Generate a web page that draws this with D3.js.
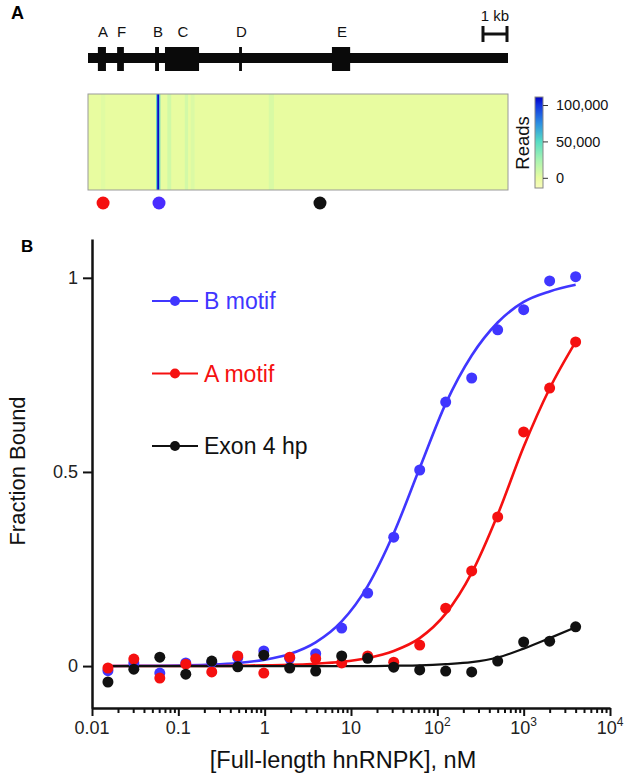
<!DOCTYPE html>
<html>
<head>
<meta charset="utf-8">
<script src="https://cdn.jsdelivr.net/npm/d3@7"></script>
<style>
body { margin: 0; background: #fff; }
svg { display: block; font-family: "Liberation Sans", Arial, sans-serif; }
</style>
</head>
<body>
<div id="chart"></div>
<script>
// ---- panel A: gene model, positions in kb ----
var exonNames = ['A', 'F', 'B', 'C', 'D', 'E'];
var exonStart = [0.38, 1.12, 2.58, 2.96, 5.81, 9.38];
var exonEnd   = [0.69, 1.38, 2.73, 4.27, 5.92, 10.08];
var geneLength = 16.15;

// read windows along the gene (kb) and their read counts
var readStart = [0.50, 2.62, 2.66, 2.74, 3.05, 3.72, 3.95, 6.95];
var readEnd   = [0.66, 2.66, 2.74, 2.78, 3.20, 3.85, 4.10, 7.15];
var readCount = [3000, 55000, 108000, 55000, 9000, 8000, 5000, 6000];

var motifNames = ['A motif', 'B motif', 'Exon 4 hp'];
var motifPos   = [0.58, 2.73, 8.92];

var colorTicks = [0, 50000, 100000];
var colorStopValues = [-14000, 0, 25000, 50000, 75000, 100000, 111000];
var colorStops = ['#f8fbbd', '#e8fca0', '#a6f3b2', '#56dcc4', '#2c8ee2', '#1232e0', '#0000c4'];

// ---- panel B: binding curves ----
var concentration = [0.0153, 0.0305, 0.061, 0.122, 0.244, 0.488, 0.977, 1.95, 3.9, 7.8,
                     15.6, 31.25, 62.5, 125, 250, 500, 1000, 2000, 4000];
var bMotif  = [-0.012, 0.008, -0.018, 0.008, 0.010, 0.022, 0.039, 0.020, 0.032, 0.098,
               0.188, 0.332, 0.505, 0.680, 0.742, 0.866, 0.918, 0.992, 1.003];
var aMotif  = [-0.005, 0.018, -0.031, 0.005, -0.015, 0.026, -0.018, 0.023, 0.019, 0.008,
               0.026, 0.010, 0.054, 0.149, 0.245, 0.384, 0.603, 0.716, 0.835];
var exon4hp = [-0.041, -0.008, 0.023, -0.021, 0.013, -0.002, 0.028, -0.005, -0.013, 0.026,
               0.020, -0.003, -0.010, -0.013, -0.015, 0.013, 0.062, 0.064, 0.101];
// fitted curves at the same concentrations
var bMotifFit  = [0.000, 0.001, 0.001, 0.002, 0.004, 0.008, 0.016, 0.031, 0.061, 0.115,
                  0.206, 0.342, 0.510, 0.676, 0.800, 0.885, 0.938, 0.965, 0.982];
var aMotifFit  = [0.000, 0.000, 0.000, 0.000, 0.000, 0.001, 0.002, 0.003, 0.006, 0.011,
                  0.021, 0.039, 0.072, 0.135, 0.240, 0.390, 0.565, 0.715, 0.835];
var exon4hpFit = [0.000, 0.000, 0.000, 0.000, 0.000, 0.000, 0.000, 0.000, 0.000, 0.000,
                  0.000, 0.001, 0.002, 0.005, 0.010, 0.022, 0.045, 0.072, 0.100];

var seriesNames  = ['B motif', 'A motif', 'Exon 4 hp'];
var seriesColors = ['#4036ff', '#f51010', '#111111'];

var yTicks = [0, 0.5, 1];
var xTicks = [0.01, 0.1, 1, 10, 100, 1000, 10000];
var xTickBase = ['0.01', '0.1', '1', '10', '10', '10', '10'];
var xTickExp  = ['', '', '', '', '2', '3', '4'];

var width = 626, height = 775;

var svg = d3.select('#chart').append('svg')
	.attr('width', width)
	.attr('height', height);

// ================= panel A =================
svg.append('text').attr('x', 11).attr('y', 19)
	.attr('font-size', 18).attr('font-weight', 'bold').text('A');

var gx = d3.scaleLinear().domain([0, geneLength]).range([88, 508]);

var gene = svg.append('g');
gene.append('rect')
	.attr('x', gx(0)).attr('y', 53)
	.attr('width', gx(geneLength) - gx(0)).attr('height', 10)
	.attr('fill', '#0a0a0a');

var exons = exonNames.map(function(n, i) {
	return { name: n, start: exonStart[i], end: exonEnd[i] };
});

gene.selectAll('.exon').data(exons).enter()
	.append('rect')
	.attr('class', 'exon')
	.attr('x', function(d) { return gx(d.start); })
	.attr('y', 47)
	.attr('width', function(d) { return Math.max(2.5, gx(d.end) - gx(d.start)); })
	.attr('height', 24)
	.attr('fill', '#0a0a0a');

gene.selectAll('.exonlabel').data(exons).enter()
	.append('text')
	.attr('class', 'exonlabel')
	.attr('x', function(d) { return (gx(d.start) + gx(d.end)) / 2 + 1; })
	.attr('y', 37)
	.attr('text-anchor', 'middle')
	.attr('font-size', 15)
	.attr('fill', '#111')
	.text(function(d) { return d.name; });

// 1 kb scale bar
var sb0 = gx(geneLength - 1), sb1 = gx(geneLength);
var bar = gene.append('g').attr('stroke', '#111').attr('stroke-width', 3);
bar.append('line').attr('x1', sb0).attr('x2', sb1).attr('y1', 34).attr('y2', 34);
bar.append('line').attr('x1', sb0 + 1).attr('x2', sb0 + 1).attr('y1', 26).attr('y2', 42);
bar.append('line').attr('x1', sb1 - 1).attr('x2', sb1 - 1).attr('y1', 26).attr('y2', 42);
gene.append('text').attr('x', (sb0 + sb1) / 2).attr('y', 21)
	.attr('text-anchor', 'middle').attr('font-size', 15).attr('fill', '#111').text('1 kb');

// heat map of reads
var color = d3.scaleLinear().domain(colorStopValues).range(colorStops);

var heat = svg.append('g');
heat.append('rect')
	.attr('x', gx(0)).attr('y', 94)
	.attr('width', gx(geneLength) - gx(0)).attr('height', 96)
	.attr('fill', color(0));

var reads = readStart.map(function(s, i) {
	return { start: s, end: readEnd[i], reads: readCount[i] };
});
heat.selectAll('.bin').data(reads).enter()
	.append('rect')
	.attr('class', 'bin')
	.attr('x', function(d) { return gx(d.start); })
	.attr('y', 94)
	.attr('width', function(d) { return gx(d.end) - gx(d.start); })
	.attr('height', 96)
	.attr('fill', function(d) { return color(d.reads); });

heat.append('rect')
	.attr('x', gx(0)).attr('y', 94)
	.attr('width', gx(geneLength) - gx(0)).attr('height', 96)
	.attr('fill', 'none').attr('stroke', '#9a9a9a').attr('stroke-width', 1);

// motif dots under the heat map
var motifColors = ['#f51010', '#4a2cff', '#111111'];
svg.selectAll('.motif').data(motifPos).enter()
	.append('circle')
	.attr('class', 'motif')
	.attr('cx', function(d) { return gx(d); })
	.attr('cy', 203)
	.attr('r', 6.5)
	.attr('fill', function(d, i) { return motifColors[i]; });

// colour bar
var cy = d3.scaleLinear().domain([colorStopValues[0], colorStopValues[colorStopValues.length - 1]]).range([188, 97]);
var grad = svg.append('defs').append('linearGradient')
	.attr('id', 'readsGrad')
	.attr('x1', 0).attr('y1', 1).attr('x2', 0).attr('y2', 0);
grad.selectAll('stop').data(colorStopValues).enter()
	.append('stop')
	.attr('offset', function(d) { return (d - colorStopValues[0]) / (colorStopValues[colorStopValues.length - 1] - colorStopValues[0]); })
	.attr('stop-color', function(d, i) { return colorStops[i]; });

svg.append('rect')
	.attr('x', 535).attr('y', 97).attr('width', 8).attr('height', 91)
	.attr('fill', 'url(#readsGrad)').attr('stroke', '#888').attr('stroke-width', 1);

var cAxis = svg.append('g')
	.attr('transform', 'translate(543,0)')
	.call(d3.axisRight(cy).tickValues(colorTicks).tickSize(5).tickPadding(8).tickFormat(d3.format(',')));
cAxis.select('.domain').remove();
cAxis.selectAll('text').attr('font-size', 14.5).attr('font-family', null).attr('fill', '#111');
cAxis.selectAll('line').attr('stroke', '#333');

svg.append('text')
	.attr('transform', 'translate(529,143) rotate(-90)')
	.attr('text-anchor', 'middle').attr('font-size', 18.5).attr('fill', '#111').text('Reads');

// ================= panel B =================
svg.append('text').attr('x', 21).attr('y', 252)
	.attr('font-size', 17).attr('font-weight', 'bold').text('B');

var x = d3.scaleLog().domain([0.01, 10000]).range([92, 610]);
var y = d3.scaleLinear().domain([-0.108, 1.1]).range([708, 239]);

// x axis: major and minor ticks
var minorTicks = [];
for (var e = -2; e < 4; e++) {
	for (var m = 2; m < 10; m++) { minorTicks.push(m * Math.pow(10, e)); }
}

var xAxisG = svg.append('g').attr('transform', 'translate(0,708)');
xAxisG.append('g')
	.call(d3.axisBottom(x).tickValues(minorTicks).tickSize(5).tickSizeOuter(0).tickFormat(''))
	.call(function(g) { g.select('.domain').remove(); });
xAxisG.append('g')
	.call(d3.axisBottom(x).tickValues(xTicks).tickSize(8).tickSizeOuter(0).tickFormat(''));
xAxisG.selectAll('line').attr('stroke', '#111').attr('stroke-width', 2);
xAxisG.selectAll('.domain').attr('stroke', '#111').attr('stroke-width', 2.5);

var xl = xAxisG.selectAll('.xlab').data(xTicks).enter()
	.append('text')
	.attr('class', 'xlab')
	.attr('x', function(d) { return x(d); })
	.attr('y', 26)
	.attr('text-anchor', 'middle')
	.attr('font-size', 18)
	.attr('fill', '#222');
xl.append('tspan').text(function(d, i) { return xTickBase[i]; });
xl.append('tspan')
	.attr('font-size', 12)
	.attr('dy', -8)
	.text(function(d, i) { return xTickExp[i]; });

// y axis
var yAxisG = svg.append('g').attr('transform', 'translate(92,0)')
	.call(d3.axisLeft(y).tickValues(yTicks).tickSize(9).tickSizeOuter(0).tickPadding(5)
		.tickFormat(function(d) { return d; }));
yAxisG.selectAll('line').attr('stroke', '#111').attr('stroke-width', 2);
yAxisG.select('.domain').attr('stroke', '#111').attr('stroke-width', 2.5);
yAxisG.selectAll('text').attr('font-size', 18).attr('font-family', null).attr('fill', '#222');

svg.append('text')
	.attr('transform', 'translate(25,471) rotate(-90)')
	.attr('text-anchor', 'middle').attr('font-size', 22).attr('fill', '#111').text('Fraction Bound');

svg.append('text')
	.attr('x', 343).attr('y', 768)
	.attr('text-anchor', 'middle').attr('font-size', 23.5).attr('fill', '#111').text('[Full-length hnRNPK], nM');

// series
var seriesValues = [bMotif, aMotif, exon4hp];
var seriesFits = [bMotifFit, aMotifFit, exon4hpFit];

var line = d3.line()
	.x(function(d) { return x(d.c); })
	.y(function(d) { return y(d.v); })
	.curve(d3.curveMonotoneX);

seriesNames.forEach(function(name, s) {
	var fit = concentration.map(function(c, i) { return { c: c, v: seriesFits[s][i] }; });
	svg.append('path')
		.datum(fit)
		.attr('d', line)
		.attr('fill', 'none')
		.attr('stroke', seriesColors[s])
		.attr('stroke-width', s == 2 ? 2.2 : 2.6);
});

seriesNames.forEach(function(name, s) {
	var pts = concentration.map(function(c, i) { return { c: c, v: seriesValues[s][i] }; });
	svg.append('g').selectAll('circle').data(pts).enter()
		.append('circle')
		.attr('cx', function(d) { return x(d.c); })
		.attr('cy', function(d) { return y(d.v); })
		.attr('r', 5.5)
		.attr('fill', seriesColors[s]);
});

// legend
var legend = svg.append('g');
seriesNames.forEach(function(name, s) {
	var ly = 301 + s * 72.5;
	legend.append('line')
		.attr('x1', 152).attr('x2', 198).attr('y1', ly).attr('y2', ly)
		.attr('stroke', seriesColors[s]).attr('stroke-width', 2.2);
	legend.append('circle')
		.attr('cx', 175).attr('cy', ly).attr('r', 5)
		.attr('fill', seriesColors[s]);
	legend.append('text')
		.attr('x', 204).attr('y', ly + 8)
		.attr('font-size', 23)
		.attr('fill', seriesColors[s])
		.text(name);
});
</script>
</body>
</html>
